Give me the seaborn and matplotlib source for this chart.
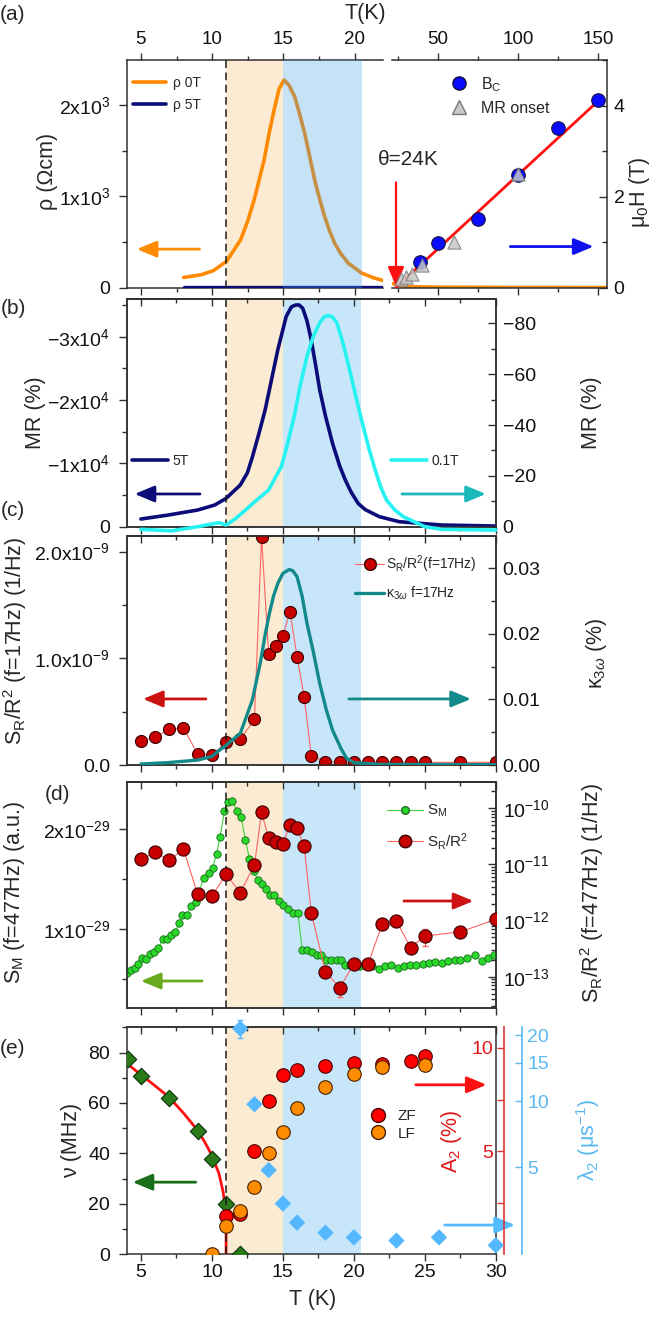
import numpy as np
import pandas as pd
import matplotlib
matplotlib.use('Agg')
import matplotlib.pyplot as plt
import seaborn as sns
from matplotlib.lines import Line2D
from matplotlib.ticker import (MultipleLocator, FixedLocator, FixedFormatter,
                               FormatStrFormatter, LogLocator, NullLocator, NullFormatter)

W, H = 660, 1323

# ---------------- data ----------------
# (a) resistivity vs T (left part)
T_RHO = [8, 9.2, 10.1, 11, 12, 12.5, 12.95, 13.3, 13.65, 14.0, 14.35, 14.7, 15.05, 15.4, 15.8,
         16.15, 16.5, 16.85, 17.2, 17.55, 17.9, 18.25, 18.6, 19.0, 19.55, 20.5, 21.4, 22]
RHO_0T = [110, 139, 186, 285, 523, 730, 962, 1180, 1400, 1690, 1948, 2180, 2277, 2220, 2094,
          1900, 1693, 1440, 1181, 970, 779, 620, 487, 380, 268, 158, 103, 77]
T_RHO5 = [8, 22]
RHO_5T = [5, 5]
# (a) right part: rho 0T tail, critical field, MR onset, linear fit
T_RHO_HI = [21.5, 25, 30, 50, 100, 155]
RHO_HI = [45, 25, 12, 5, 2, 1]
T_BC = [39, 50, 75, 100, 125, 150]
BC = [0.57, 0.98, 1.5, 2.48, 3.5, 4.11]
T_MRON = [27, 30, 34, 40, 60, 100]
MR_ON = [0.18, 0.23, 0.3, 0.5, 1.01, 2.5]
T_BFIT = [24, 150]
B_FIT = [0, 4.1]

# (b) magnetoresistance
T_5T = [5, 6.93, 9, 10.2, 11, 12, 12.5, 12.86, 13.3, 13.75, 14.2, 14.64, 15.23, 15.6, 15.9,
        16.15, 16.4, 16.7, 17, 17.3, 17.6, 18, 18.5, 19, 19.4, 19.8, 20.3, 20.8, 21.8, 23.2,
        26.2, 30]
MR_5T = [-1211, -1842, -2632, -3421, -4474, -6579, -8500, -11053, -14600, -18421, -23200,
         -27895, -33158, -34700, -35000, -35000, -34474, -32500, -29474, -25600, -21579,
         -17500, -13158, -9600, -7368, -5500, -3684, -2700, -1579, -789, -263, -105]
T_01T = [5, 7.2, 9, 10.5, 11, 11.7, 12.9, 14, 14.9, 15.3, 15.8, 16.2, 16.7, 17.15, 17.6, 17.9,
         18.2, 18.5, 18.8, 19.25, 19.7, 20.15, 20.6, 21.05, 21.5, 21.9, 22.3, 22.9, 23.5, 25,
         26.2, 30]
MR_01T = [1.05, 1.6, 0, -1.6, -0.66, -3.3, -9.2, -14.5, -23.7, -32, -43.4, -55, -67.1, -75,
          -80.3, -82.5, -83.2, -82.5, -80.3, -72, -61.8, -51, -40.8, -31, -22.4, -15.5, -10.5,
          -6.5, -3.9, 0, 1.05, 1.3]

# (c) noise at 17 Hz (units 1e-9 1/Hz) and kappa_3w (%)
T_NOISE = [5, 6, 7, 8, 9, 10, 11, 12, 13, 13.5, 14, 14.5, 15, 15.5, 16, 16.5, 17, 18,
           19, 20, 21, 22, 23, 24, 25, 27.5, 30]
SR17 = [0.225, 0.259, 0.3375, 0.344, 0.103, 0.094, 0.2125, 0.24, 0.428, 2.14, 1.0375,
        1.119, 1.209, 1.4375, 1.016, 0.64, 0.0875, 0.031, 0.025, 0.025, 0.025, 0.031,
        0.031, 0.025, 0.025, 0.025, 0.025]
T_KAPPA = [5, 6.9, 9, 10, 10.5, 11, 12, 12.85, 13.45, 13.75, 14.05, 14.35, 14.65, 15.0, 15.45,
           15.7, 16, 16.35, 16.7, 17.15, 17.6, 18.05, 18.5, 19.1, 19.5, 20, 21.8, 30]
KAPPA = [0.00015, 0.00036, 0.00076, 0.0013, 0.0022, 0.003, 0.0048, 0.0099, 0.016, 0.0198,
         0.0231, 0.0258, 0.0277, 0.0292, 0.0298, 0.0296, 0.0287, 0.0258, 0.0216, 0.0172,
         0.0124, 0.0085, 0.0053, 0.0025, 0.001, 0.00036, 0.0001, 0.00005]

# (d) S_M at 477 Hz (units 1e-29) and S_R/R^2 at 477 Hz (1/Hz)
T_SM = [4.0, 4.33, 4.6, 4.83, 5.1, 5.35, 5.66, 5.94, 6.24, 6.53, 6.81, 7.1, 7.42, 7.7,
        7.93, 8.24, 8.52, 8.87, 9.41, 9.77, 10.05, 10.33, 10.58, 10.88, 11.14, 11.44,
        11.77, 12.06, 12.36, 12.65, 12.95, 13.22, 13.51, 13.81, 14.1, 14.4, 14.7, 15.03,
        15.38, 15.74, 16.06, 16.36, 16.7, 17.07, 17.37, 17.66, 18.05, 18.4, 18.8, 19.1,
        19.38, 19.74, 20.03, 20.4, 20.86, 21.3, 21.75, 22.2, 22.64, 23.09, 23.53, 23.98,
        24.4, 24.87, 25.3, 25.75, 26.2, 26.64, 27.1, 27.5, 28.0, 28.57, 29.0, 29.46, 29.9]
SM = [0.557, 0.59, 0.607, 0.65, 0.707, 0.697, 0.75, 0.773, 0.807, 0.897, 0.897, 0.94,
      0.973, 1.057, 1.14, 1.14, 1.23, 1.273, 1.507, 1.557, 1.613, 1.753, 1.92, 2.177,
      2.267, 2.283, 2.177, 2.12, 1.893, 1.7, 1.583, 1.493, 1.45, 1.4, 1.343, 1.343,
      1.277, 1.243, 1.203, 1.16, 1.16, 0.793, 0.787, 0.77, 0.737, 0.737, 0.693, 0.693,
      0.693, 0.693, 0.643, 0.643, 0.627, 0.627, 0.643, 0.627, 0.6, 0.633, 0.643, 0.61,
      0.627, 0.643, 0.643, 0.653, 0.66, 0.667, 0.66, 0.677, 0.687, 0.693, 0.71, 0.743,
      0.677, 0.71, 0.743]
SR477 = [1.23e-11, 1.64e-11, 1.2e-11, 1.88e-11, 2.93e-12, 2.74e-12, 6.67e-12, 3.14e-12,
         9.77e-12, 8.49e-11, 2.92e-11, 2.55e-11, 2.31e-11, 5.05e-11, 4.4e-11, 2.13e-11,
         1.38e-12, 1.23e-13, 6.35e-14, 1.68e-13, 1.68e-13, 8.67e-13, 9.8e-13, 3.28e-13,
         5.3e-13, 6.3e-13, 1.05e-12]
T_SR_ERR = [16, 19, 25]
SR_ERR_LO = [3.58e-11, 4.4e-14, 3.5e-13]
SR_ERR_HI = [5.4e-11, 8.1e-14, 7.1e-13]

# (e) muSR
T_NU = [4.1, 5, 7, 9, 10, 11, 12]
NU = [77.4, 70.5, 61.8, 48.8, 37.6, 20.1, 0]
T_NUFIT = [4, 5, 6, 7, 8, 9, 9.5, 10, 10.5, 10.8, 10.95, 11, 11]
NU_FIT = [75.7, 71.2, 66.8, 62.2, 56, 49.1, 44.5, 39.2, 32, 24.5, 18, 12, 0]
T_ZF = [11, 12, 13, 14, 15, 16, 18, 20, 22, 24, 25]
A2_ZF = [1.87, 1.94, 5.02, 7.42, 8.68, 8.92, 9.13, 9.27, 9.21, 9.35, 9.6]
ZF_ERR_T = [13]
ZF_ERR = [0.3]
T_LF = [10, 11, 12, 13, 14, 15, 16, 18, 20, 22, 25]
A2_LF = [0, 1.37, 2.11, 3.24, 4.92, 5.92, 7.1, 8.11, 8.73, 9.08, 9.19]
T_LAM = [12, 13, 14, 15, 16, 18, 20, 23, 26, 30]
LAM = [21.5, 9.7, 4.85, 3.41, 2.79, 2.51, 2.39, 2.31, 2.39, 2.2]
LAM_ERR_T = [12]
LAM_ERR_LO = [19.5]
LAM_ERR_HI = [23.5]

# ---------------- style ----------------
sns.set_theme(style='ticks')
plt.rcParams['font.family'] = ['Liberation Sans', 'DejaVu Sans']
plt.rcParams['mathtext.fontset'] = 'custom'
plt.rcParams['mathtext.rm'] = 'Liberation Sans'
plt.rcParams['mathtext.it'] = 'Liberation Sans:italic'
plt.rcParams['mathtext.bf'] = 'Liberation Sans:bold'
plt.rcParams['mathtext.sf'] = 'Liberation Sans'
plt.rcParams['lines.solid_joinstyle'] = 'round'

ORANGE = '#ff8a00'
NAVY = '#0c0c78'
CYAN = '#26f2f2'
TEAL = '#138a8a'
RED = '#c80000'
THIN_RED = '#ff6262'
GREEN = '#2ad82a'
TAN = '#fbebd2'
BLUE_SHADE = '#c7e6fa'
SPINE = '#303030'
TICK_FS = 14
LAB_FS = 15.5

fig = plt.figure(figsize=(W / 100, H / 100), dpi=100)


def rect(x0, y0, x1, y1):
    return [x0 / W, 1 - y1 / H, (x1 - x0) / W, (y1 - y0) / H]


def style(ax):
    for s in ax.spines.values():
        s.set_color(SPINE)
        s.set_linewidth(1.1)
    ax.tick_params(which='both', direction='out', color=SPINE, width=1.0,
                   labelsize=TICK_FS, labelcolor='#111111')
    ax.tick_params(axis='y', which='major', length=6, pad=6)
    ax.tick_params(axis='y', which='minor', length=3.5)
    ax.tick_params(axis='x', which='major', length=5, pad=2)
    ax.tick_params(axis='x', which='minor', length=3)


def right_style(ax):
    style(ax)
    ax.tick_params(axis='y', which='both', direction='in', pad=5)


def frac(ax, x_px, y_px):
    bb = ax.get_position()
    return (x_px / W - bb.x0) / bb.width, ((1 - y_px / H) - bb.y0) / bb.height


def ylab(ax, text, x_px, y_px, **kw):
    ax.set_ylabel(text, fontsize=LAB_FS, **kw)
    ax.yaxis.set_label_coords(*frac(ax, x_px, y_px))
    ax.yaxis.label.set_verticalalignment('center')
    ax.yaxis.label.set_horizontalalignment('center')


def place_legend(ax, handles, labels, x_px, y_px, fs, **kw):
    leg = ax.legend(handles, labels, loc='upper left',
                    bbox_to_anchor=(x_px / W, 1 - y_px / H), bbox_transform=fig.transFigure,
                    frameon=False, fontsize=fs, borderpad=0, borderaxespad=0, **kw)
    leg.set_zorder(20)
    return leg


def arrow(ax, tail, tip, color, lw=2.0):
    ax.annotate('', xy=tip, xytext=tail, annotation_clip=False,
                arrowprops=dict(arrowstyle='-|>,head_length=0.6,head_width=0.25',
                                color=color, lw=lw, mutation_scale=20, shrinkA=0, shrinkB=0))


def shade(ax, blue_on_top=False):
    ax.axvspan(11, 15, color=TAN, lw=0, zorder=0)
    if blue_on_top:
        ax.axvspan(15, 20.5, color='#3fa0e6', alpha=0.3, lw=0, zorder=4)
    else:
        ax.axvspan(15, 20.5, color=BLUE_SHADE, lw=0, zorder=0)
    ax.axvline(11, color='k', lw=1.1, ls=(0, (5, 3)), zorder=5)


def t_axis(ax, bottom_labels=False):
    ax.set_xlim(4, 30)
    ax.xaxis.set_major_locator(MultipleLocator(5))
    ax.xaxis.set_minor_locator(MultipleLocator(2.5))
    ax.tick_params(axis='x', which='both', top=False, bottom=True,
                   labelbottom=bottom_labels, labeltop=False)
    top = ax.secondary_xaxis('top')
    top.xaxis.set_major_locator(MultipleLocator(5))
    top.xaxis.set_minor_locator(MultipleLocator(2.5))
    top.tick_params(which='both', direction='in', labeltop=False, color=SPINE, width=1.0)
    top.tick_params(which='major', length=5)
    top.tick_params(which='minor', length=3)
    top.spines['top'].set_color(SPINE)
    top.spines['top'].set_linewidth(1.1)


# ---------------- axes ----------------
ax_a = fig.add_axes(rect(126.7, 60, 383, 287.5))
ax_a2 = fig.add_axes(rect(392, 60, 606.7, 287.5))
ax_b = fig.add_axes(rect(126.7, 299.3, 495.8, 526.7))
ax_c = fig.add_axes(rect(126.7, 536, 495.8, 765))
ax_d = fig.add_axes(rect(126.7, 781.7, 495.8, 1008.3))
ax_e = fig.add_axes(rect(126.7, 1027.3, 495.8, 1254.3))
for ax in (ax_a, ax_b, ax_c, ax_d, ax_e):
    style(ax)
right_style(ax_a2)

# ---------------- (a) left ----------------
shade(ax_a, blue_on_top=True)
sns.lineplot(x=T_RHO, y=RHO_0T, ax=ax_a, color=ORANGE, lw=2.6, sort=False, estimator=None, zorder=3)
sns.lineplot(x=T_RHO5, y=RHO_5T, ax=ax_a, color=NAVY, lw=2.4, sort=False, estimator=None, zorder=3)
ax_a.set_xlim(4, 22)
ax_a.set_ylim(0, 2497)
ax_a.xaxis.set_major_locator(MultipleLocator(5))
ax_a.xaxis.set_minor_locator(MultipleLocator(2.5))
ax_a.tick_params(axis='x', which='both', top=True, labeltop=True, bottom=True, labelbottom=False)
ax_a.tick_params(axis='x', labelsize=13.5, pad=4)
ax_a.yaxis.set_major_locator(FixedLocator([0, 1000, 2000]))
ax_a.yaxis.set_major_formatter(FixedFormatter(['0', r'$1\mathrm{x}10^{3}$', r'$2\mathrm{x}10^{3}$']))
ax_a.yaxis.set_minor_locator(MultipleLocator(500))
ax_a.spines['right'].set_visible(False)
ylab(ax_a, 'ρ (Ωcm)', 48, 171)
arrow(ax_a, (9.11, 421), (4.71, 421), ORANGE)
place_legend(ax_a, [Line2D([], [], color=ORANGE, lw=2.6), Line2D([], [], color=NAVY, lw=2.6)],
             ['ρ 0T', 'ρ 5T'], 133, 76, 10, handlelength=2.4, handletextpad=0.5, labelspacing=0.55)

# ---------------- (a) right ----------------
# rho tail drawn on the field axis (2500 Ohm cm <-> 5 T)
sns.lineplot(x=T_RHO_HI, y=np.array(RHO_HI) / 500, ax=ax_a2, color=ORANGE, lw=2.4,
             sort=False, estimator=None, zorder=2)
sns.lineplot(x=T_BFIT, y=B_FIT, ax=ax_a2, color='#ff1010', lw=2.0, sort=False, estimator=None, zorder=3)
sns.scatterplot(x=T_BC, y=BC, ax=ax_a2, color='#0a0aff', edgecolor='#101040', linewidth=0.8,
                s=95, marker='o', zorder=4)
sns.scatterplot(x=T_MRON, y=MR_ON, ax=ax_a2, color='#c8c8c8', edgecolor='#7a7a7a', linewidth=0.8,
                s=90, marker='^', alpha=0.85, zorder=5)
ax_a2.set_xlim(21.5, 155.3)
ax_a2.set_ylim(0, 5.0)
ax_a2.xaxis.set_major_locator(FixedLocator([50, 100, 150]))
ax_a2.xaxis.set_minor_locator(FixedLocator([25, 75, 125]))
ax_a2.tick_params(axis='x', which='both', direction='out', top=True, labeltop=True,
                  bottom=True, labelbottom=False)
ax_a2.tick_params(axis='x', labelsize=13.5, pad=4)
ax_a2.yaxis.tick_right()
ax_a2.yaxis.set_major_locator(MultipleLocator(2))
ax_a2.yaxis.set_minor_locator(MultipleLocator(1))
ax_a2.spines['left'].set_visible(False)
ax_a2.yaxis.set_label_position('right')
ylab(ax_a2, 'μ$_0$H (T)', 640, 192)
arrow(ax_a2, (95.2, 0.9), (147.1, 0.9), '#1010ee')
arrow(ax_a2, (24, 2.31), (24, 0.02), '#ff1010', lw=1.6)
ax_a2.text(31.5, 2.81, 'θ=24K', fontsize=15, ha='center', va='center', clip_on=False)
place_legend(ax_a2,
             [Line2D([], [], ls='none', marker='o', ms=9.5, mfc='#0a0aff', mec='#101040'),
              Line2D([], [], ls='none', marker='^', ms=9.5, mfc='#c8c8c8', mec='#7a7a7a')],
             ['B$_\\mathrm{C}$', 'MR onset'], 452, 75, 11.5,
             handlelength=0.9, handletextpad=0.9, labelspacing=0.45)

# ---------------- (b) ----------------
shade(ax_b)
sns.lineplot(x=T_5T, y=MR_5T, ax=ax_b, color=NAVY, lw=2.6, sort=False, estimator=None, zorder=3)
ax_b2 = ax_b.twinx()
right_style(ax_b2)
sns.lineplot(x=T_01T, y=MR_01T, ax=ax_b2, color=CYAN, lw=2.6, sort=False, estimator=None,
             zorder=3, clip_on=False)
t_axis(ax_b)
ax_b.set_ylim(0, -35900)
ax_b.yaxis.set_major_locator(FixedLocator([0, -10000, -20000, -30000]))
ax_b.yaxis.set_major_formatter(FixedFormatter(['0', r'$-1\mathrm{x}10^{4}$',
                                               r'$-2\mathrm{x}10^{4}$', r'$-3\mathrm{x}10^{4}$']))
ax_b.yaxis.set_minor_locator(MultipleLocator(5000))
ax_b2.set_ylim(0, -89.5)
ax_b2.yaxis.set_major_locator(MultipleLocator(20))
ax_b2.yaxis.set_minor_locator(MultipleLocator(10))
ylab(ax_b, 'MR (%)', 35, 413)
ylab(ax_b2, 'MR (%)', 591, 413)
arrow(ax_b, (9.16, -5166), (4.56, -5166), NAVY)
arrow(ax_b, (23.39, -5166), (29.3, -5166), '#1ab8b8')
place_legend(ax_b, [Line2D([], [], color=NAVY, lw=2.6)], ['5T'], 131.7, 453.5, 10,
             handlelength=2.6, handletextpad=0.3)
place_legend(ax_b2, [Line2D([], [], color=CYAN, lw=2.6)], ['0.1T'], 391, 453.5, 10,
             handlelength=2.6, handletextpad=0.3)

# ---------------- (c) ----------------
shade(ax_c)
sr17 = np.array(SR17) * 1e-9
sns.lineplot(x=T_NOISE, y=sr17, ax=ax_c, color=THIN_RED, lw=0.8, sort=False, estimator=None, zorder=3)
sns.scatterplot(x=T_NOISE, y=sr17, ax=ax_c, color=RED, edgecolor='#3a0000', linewidth=0.8,
                s=75, zorder=4)
ax_c2 = ax_c.twinx()
right_style(ax_c2)
sns.lineplot(x=T_KAPPA, y=KAPPA, ax=ax_c2, color=TEAL, lw=2.4, sort=False, estimator=None, zorder=3)
t_axis(ax_c)
ax_c.set_ylim(0, 2.146e-9)
ax_c.yaxis.set_major_locator(FixedLocator([0, 1e-9, 2e-9]))
ax_c.yaxis.set_major_formatter(FixedFormatter(['0.0', r'$1.0\mathrm{x}10^{-9}$', r'$2.0\mathrm{x}10^{-9}$']))
ax_c.yaxis.set_minor_locator(MultipleLocator(0.5e-9))
ax_c2.set_ylim(0, 0.0349)
ax_c2.yaxis.set_major_locator(MultipleLocator(0.01))
ax_c2.yaxis.set_minor_locator(MultipleLocator(0.005))
ax_c2.yaxis.set_major_formatter(FormatStrFormatter('%.2f'))
ylab(ax_c, 'S$_\\mathrm{R}$/R$^2$ (f=17Hz) (1/Hz)', 15, 641)
ylab(ax_c2, 'κ$_{3\\omega}$ (%)', 596, 653)
arrow(ax_c, (9.58, 0.619e-9), (5.15, 0.619e-9), '#cc1111')
arrow(ax_c, (19.65, 0.619e-9), (28.25, 0.619e-9), TEAL)
place_legend(ax_c2,
             [Line2D([], [], color=THIN_RED, lw=0.8, marker='o', ms=8.5, mfc=RED, mec='#3a0000'),
              Line2D([], [], color=TEAL, lw=2.4)],
             ['S$_\\mathrm{R}$/R$^2$(f=17Hz)', 'κ$_{3\\omega}$ f=17Hz'], 355, 553, 10,
             handlelength=2.1, handletextpad=0.15, labelspacing=0.75)

# ---------------- (d) ----------------
shade(ax_d)
sns.lineplot(x=T_SM, y=SM, ax=ax_d, color='#3cd23c', lw=0.8, sort=False, estimator=None, zorder=3)
sns.scatterplot(x=T_SM, y=SM, ax=ax_d, color=GREEN, edgecolor='#1a6a1a', linewidth=0.6,
                s=28, zorder=4)
ax_d2 = ax_d.twinx()
right_style(ax_d2)
ax_d2.set_yscale('log')
ax_d2.errorbar(T_SR_ERR, [np.sqrt(lo * hi) for lo, hi in zip(SR_ERR_LO, SR_ERR_HI)],
               yerr=[[np.sqrt(lo * hi) - lo for lo, hi in zip(SR_ERR_LO, SR_ERR_HI)],
                     [hi - np.sqrt(lo * hi) for lo, hi in zip(SR_ERR_LO, SR_ERR_HI)]],
               fmt='none', ecolor=THIN_RED, elinewidth=0.9, capsize=2.5, zorder=3)
sns.lineplot(x=T_NOISE, y=SR477, ax=ax_d2, color=THIN_RED, lw=0.8, sort=False, estimator=None, zorder=3)
sns.scatterplot(x=T_NOISE, y=SR477, ax=ax_d2, color=RED, edgecolor='#3a0000', linewidth=0.8,
                s=90, zorder=4)
t_axis(ax_d)
ax_d.set_ylim(0.207, 2.473)
ax_d.yaxis.set_major_locator(FixedLocator([1, 2]))
ax_d.yaxis.set_major_formatter(FixedFormatter([r'$1\mathrm{x}10^{-29}$', r'$2\mathrm{x}10^{-29}$']))
ax_d.yaxis.set_minor_locator(FixedLocator([0.5, 1.5]))
ax_d2.set_ylim(10 ** -13.563, 10 ** -9.526)
ax_d2.yaxis.set_major_locator(LogLocator(base=10, numticks=10))
ax_d2.yaxis.set_minor_locator(LogLocator(base=10, subs=np.arange(2, 10), numticks=20))
ax_d2.yaxis.set_minor_formatter(NullFormatter())
ylab(ax_d, 'S$_\\mathrm{M}$ (f=477Hz) (a.u.)', 15, 892)
ylab(ax_d2, 'S$_\\mathrm{R}$/R$^2$ (f=477Hz) (1/Hz)', 592, 893)
arrow(ax_d, (9.3, 0.48), (5.0, 0.48), '#6aaa1e')
arrow(ax_d, (23.53, 1.28), (28.42, 1.28), '#cc1111')
place_legend(ax_d2,
             [Line2D([], [], color='#3cd23c', lw=0.8, marker='o', ms=5.5, mfc=GREEN, mec='#1a6a1a'),
              Line2D([], [], color=THIN_RED, lw=0.8, marker='o', ms=9, mfc=RED, mec='#3a0000')],
             ['S$_\\mathrm{M}$', 'S$_\\mathrm{R}$/R$^2$'], 387, 803, 11,
             handlelength=2.35, handletextpad=0.25, labelspacing=0.75)

# ---------------- (e) ----------------
shade(ax_e)
sns.lineplot(x=T_NUFIT, y=NU_FIT, ax=ax_e, color='#ff1010', lw=2.0, sort=False, estimator=None, zorder=3)
sns.scatterplot(x=T_NU, y=NU, ax=ax_e, color='#2a7a1a', edgecolor='#0a300a', linewidth=0.8,
                s=70, marker='D', zorder=4)
t_axis(ax_e, bottom_labels=True)
ax_e.set_ylim(0, 90)
ax_e.yaxis.set_major_locator(MultipleLocator(20))
ax_e.yaxis.set_minor_locator(MultipleLocator(10))
ax_e.set_xlabel('T (K)', fontsize=LAB_FS)
ax_e.xaxis.set_label_coords(*frac(ax_e, 313, 1300))
ax_e.xaxis.label.set_verticalalignment('center')
ylab(ax_e, 'ν (MHz)', 72, 1140)

ax_r = ax_e.twinx()
ax_r.set_zorder(ax_e.get_zorder() + 1)
red_axis = '#e03434'
for s in ('right', 'top', 'bottom'):
    ax_r.spines[s].set_visible(False)
ax_r.spines['left'].set_visible(True)
ax_r.spines['left'].set_position(('axes', 1.023))
ax_r.spines['left'].set_color(red_axis)
ax_r.spines['left'].set_linewidth(1.2)
ax_r.yaxis.tick_left()
ax_r.yaxis.set_label_position('left')
ax_r.tick_params(which='both', direction='out', color=red_axis, labelcolor='#e01818',
                 labelsize=TICK_FS, length=5, width=1.0, pad=3)
ax_r.set_ylim(0, 11)
ax_r.yaxis.set_major_locator(FixedLocator([5, 10]))
ax_r.yaxis.set_minor_locator(FixedLocator([2.5, 7.5]))
ax_r.errorbar(ZF_ERR_T, [A2_ZF[T_ZF.index(t)] for t in ZF_ERR_T], yerr=ZF_ERR, fmt='none',
              ecolor='#a02020', elinewidth=0.9, capsize=2, zorder=3)
sns.scatterplot(x=T_ZF, y=A2_ZF, ax=ax_r, color='#ff0000', edgecolor='#4a0000', linewidth=0.8,
                s=95, zorder=4)
sns.scatterplot(x=T_LF, y=A2_LF, ax=ax_r, color='#ff8c00', edgecolor='#4a2000', linewidth=0.8,
                s=95, zorder=5)
ylab(ax_r, 'A$_2$ (%)', 452, 1141, color='#e01818')

ax_l = ax_e.twinx()
ax_l.set_zorder(ax_e.get_zorder() + 2)
blue_axis = '#5ab8f2'
ax_l.set_yscale('log')
for s in ('left', 'top', 'bottom'):
    ax_l.spines[s].set_visible(False)
ax_l.spines['right'].set_position(('axes', 1.070))
ax_l.spines['right'].set_color(blue_axis)
ax_l.spines['right'].set_linewidth(1.2)
ax_l.tick_params(which='both', direction='in', color=blue_axis, labelcolor=blue_axis,
                 labelsize=TICK_FS, length=5, width=1.0, pad=4)
ax_l.set_ylim(2.0, 21.8)
ax_l.yaxis.set_major_locator(FixedLocator([5, 10, 15, 20]))
ax_l.yaxis.set_major_formatter(FixedFormatter(['5', '10', '15', '20']))
ax_l.yaxis.set_minor_locator(NullLocator())
lam_mid = [LAM[T_LAM.index(t)] for t in LAM_ERR_T]
eb = ax_l.errorbar(LAM_ERR_T, lam_mid,
                   yerr=[[m - lo for m, lo in zip(lam_mid, LAM_ERR_LO)],
                         [hi - m for m, hi in zip(lam_mid, LAM_ERR_HI)]],
                   fmt='none', ecolor='#55b8ff', elinewidth=1.0, capsize=2, zorder=3)
for art in eb.lines[1] + eb.lines[2]:
    art.set_clip_on(False)
sns.scatterplot(x=T_LAM, y=LAM, ax=ax_l, color='#55b8ff', edgecolor='none', s=70, marker='D',
                zorder=4, clip_on=False)
ylab(ax_l, 'λ$_2$ (μs$^{-1}$)', 588, 1140, color=blue_axis)

arrow(ax_e, (8.86, 28.6), (4.42, 28.6), '#1a6e1a')
arrow(ax_e, (24.37, 67.2), (29.35, 67.2), '#ff1010')
arrow(ax_e, (26.4, 11.6), (31.35, 11.6), '#55bbff')
place_legend(ax_l,
             [Line2D([], [], ls='none', marker='o', ms=10, mfc='#ff0000', mec='#4a0000'),
              Line2D([], [], ls='none', marker='o', ms=10, mfc='#ff8c00', mec='#4a2000')],
             ['ZF', 'LF'], 372, 1109, 11, handlelength=0.8, handletextpad=0.9, labelspacing=0.25)

# ---------------- figure texts ----------------
fig.text(365 / W, 1 - 13 / H, 'T(K)', fontsize=LAB_FS, ha='center', va='center')
for lab, x, y in [('(a)', 13, 15), ('(b)', 13, 308), ('(c)', 13, 510), ('(d)', 57, 795), ('(e)', 13, 1048)]:
    fig.text(x / W, 1 - y / H, lab, fontsize=15, ha='center', va='center')

fig.savefig('out.png', dpi=100)
